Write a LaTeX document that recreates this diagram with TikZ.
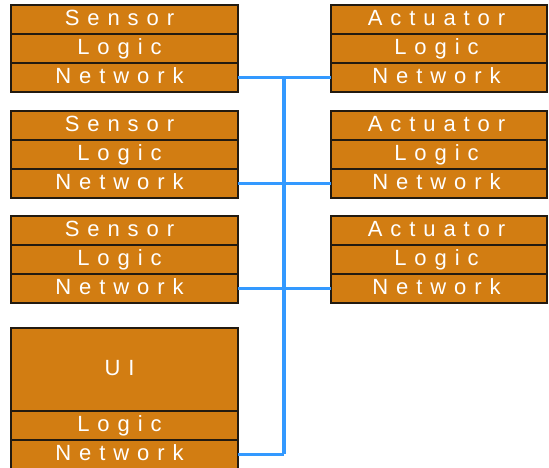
\documentclass[tikz,border=0pt]{standalone}
\usepackage{fontspec}
\usetikzlibrary{positioning}
\newfontfamily\layerfont[LetterSpace=36]{Liberation Sans}
\definecolor{layerFill}{HTML}{D27D12}
\definecolor{layerEdge}{HTML}{221A10}
\definecolor{busBlue}{HTML}{3399FF}

\tikzset{
  layer/.style={draw=layerEdge,fill=layerFill,line width=1.1pt,
                minimum width=227pt,minimum height=29pt,inner sep=0pt,
                outer sep=0pt,text=white,text height=16pt,text depth=4.5pt,
                font=\fontsize{22}{22}\layerfont,
                execute at end node={\kern#1}},
  layer/.default=10pt,
  actlayer/.style={layer=5pt,minimum width=216pt},
  busline/.style={busBlue,line width=4pt},
  link/.style={busBlue,line width=2.2pt}
}

\begin{document}
\begin{tikzpicture}[x=1pt,y=-1pt]
\useasboundingbox (0,0) rectangle (549,468);

% sensor and actuator stacks
\foreach \i/\y in {1/19.5,2/125.5,3/230.5}{
  \node[layer] (sen\i) at (124.5,\y) {Sensor};
  \node[layer,below=0pt of sen\i] (slog\i) {Logic};
  \node[layer,below=0pt of slog\i] (snet\i) {Network};
  \node[actlayer] (act\i) at (439,\y) {Actuator};
  \node[actlayer,below=0pt of act\i] (alog\i) {Logic};
  \node[actlayer,below=0pt of alog\i] (anet\i) {Network};
}

% user interface stack
\node[layer,minimum height=83pt] (ui) at (124.5,369.5) {UI};
\node[layer,below=0pt of ui] (uilog) {Logic};
\node[layer,below=0pt of uilog] (uinet) {Network};

% bus
\coordinate (bus) at (284,0);
\draw[busline] (bus |- snet1.east) -- ([yshift=1pt]bus |- uinet.east);
\foreach \i in {1,2,3}
  \draw[link] (snet\i.east) -- (anet\i.west);
\draw[link] (uinet.east) -- (bus |- uinet.east);
\end{tikzpicture}
\end{document}
